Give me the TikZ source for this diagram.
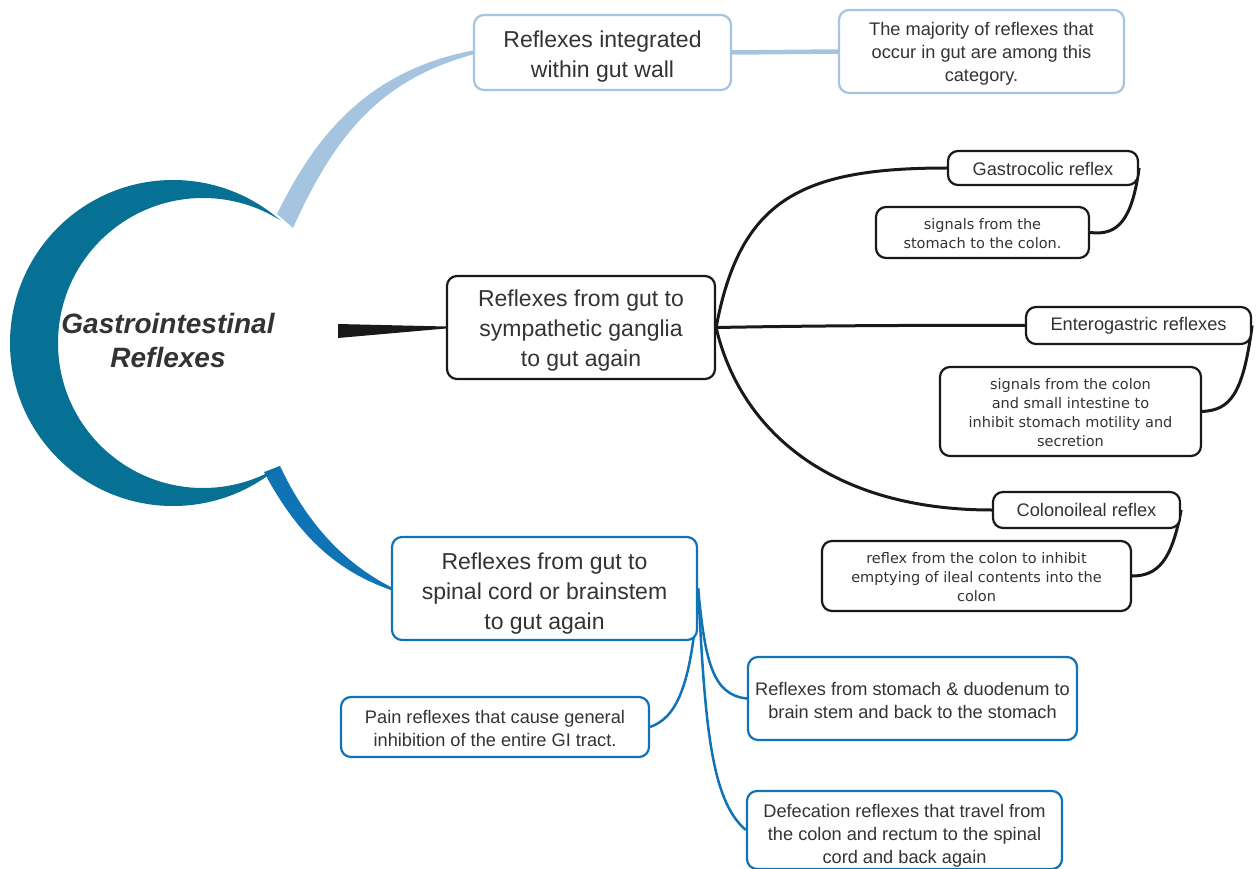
\documentclass[tikz,border=0pt]{standalone}
\usepackage{fontspec}
\setmainfont{Liberation Sans}
\newfontfamily\dvfont{DejaVu Sans}
\definecolor{crescent}{RGB}{6,112,149}
\definecolor{lblue}{RGB}{165,196,223}
\definecolor{cblue}{RGB}{16,115,182}
\definecolor{txt}{RGB}{51,51,51}
\definecolor{blk}{RGB}{25,25,25}
\newcommand\tup[1]{\rule{0pt}{#1}}
\pgfdeclarelayer{bg}
\pgfsetlayers{bg,main}
\begin{document}
\begin{tikzpicture}[x=1pt,y=-1pt,
  box/.style={draw, rounded corners=10pt, line width=2.2pt, fill=white, align=center, inner sep=0pt, text=txt},
  bigtxt/.style={font=\fontsize{23}{30}\selectfont},
  midtxt/.style={font=\fontsize{18.2}{23}\selectfont},
  smalltxt/.style={font=\dvfont\fontsize{14.5}{19}\selectfont},
  lbbox/.style={box, draw=lblue},
  bkbox/.style={box, draw=blk},
  cbbox/.style={box, draw=cblue},
  bkline/.style={draw=blk, line width=3pt},
  cbline/.style={draw=cblue, line width=2.5pt}]
\useasboundingbox (0,0) rectangle (1258,869);

% crescent
\begin{scope}
\clip (173,343) circle (163pt);
\clip (0,0) rectangle (281,869);
\fill[crescent, even odd rule] (0,100) rectangle (400,600) (203,343) circle (145pt);
\end{scope}
\node[font=\fontsize{28}{34}\selectfont\bfseries\itshape, text=txt, align=center] (title) at (168,340) {Gastrointestinal\\Reflexes};

% nodes
\node[lbbox, bigtxt, minimum width=257pt, minimum height=75pt] (A) at (602.5,52.5) {\tup{25pt}Reflexes integrated\\within gut wall};
\node[lbbox, midtxt, minimum width=285pt, minimum height=83pt] (A1) at (981.5,51.5) {\tup{17.5pt}The majority of reflexes that\\occur in gut are among this\\category.};

\node[bkbox, bigtxt, minimum width=268pt, minimum height=103pt] (B) at (581,327.5) {\tup{23pt}Reflexes from gut to\\sympathetic ganglia\\to gut again};
\node[bkbox, midtxt, minimum width=190pt, minimum height=34pt] (B1) at (1043,168) {\tup{14.5pt}Gastrocolic reflex};
\node[bkbox, smalltxt, minimum width=213pt, minimum height=51pt] (B1a) at (982.5,232.5) {\tup{13pt}signals from the\\stomach to the colon.};
\node[bkbox, midtxt, minimum width=225pt, minimum height=37pt] (B2) at (1138.5,325.5) {\tup{14.5pt}Enterogastric reflexes};
\node[bkbox, smalltxt, minimum width=261pt, minimum height=89pt] (B2a) at (1070.5,411.5) {\tup{13pt}signals from the colon\\and small intestine to\\inhibit stomach motility and\\secretion};
\node[bkbox, midtxt, minimum width=187pt, minimum height=36pt] (B3) at (1086.5,510) {\tup{13.5pt}Colonoileal reflex};
\node[bkbox, smalltxt, minimum width=309pt, minimum height=70pt] (B3a) at (976.5,576) {\tup{13pt}reflex from the colon to inhibit\\emptying of ileal contents into the\\colon};

\node[cbbox, bigtxt, minimum width=305pt, minimum height=103pt] (C) at (544.5,588.5) {\tup{27pt}Reflexes from gut to\\spinal cord or brainstem\\to gut again};
\node[cbbox, midtxt, minimum width=308pt, minimum height=60pt] (C1) at (495,727) {\tup{16pt}Pain reflexes that cause general\\inhibition of the entire GI tract.};
\node[cbbox, midtxt, minimum width=329pt, minimum height=83pt] (C2) at (912.5,698.5) {\tup{17.5pt}Reflexes from stomach \& duodenum to\\brain stem and back to the stomach};
\node[cbbox, midtxt, minimum width=315pt, minimum height=78pt] (C3) at (904.5,830) {\tup{25.5pt}Defecation reflexes that travel from\\the colon and rectum to the spinal\\cord and back again};

\coordinate (tipT) at (281,221);
\coordinate (tipB) at (281,465);

\begin{pgfonlayer}{bg}
% light blue ribbon
\fill[lblue] (277,214) .. controls (318,130) and (372,70) .. ([yshift=2pt]A.west) -- ([yshift=-2pt]A.west) .. controls (380,80) and (335,135) .. (293,228) -- cycle;
\draw[lblue, line width=4.5pt] (A.east) -- (A1.west);
% black wedge
\fill[blk] (338,324) -- ([yshift=1pt]B.west) -- ([yshift=-1pt]B.west) -- (338,338) -- cycle;
% blue ribbon
\fill[cblue] (264,472) .. controls (300,540) and (340,572) .. ([yshift=-1.5pt]C.west) -- ([yshift=1.5pt]C.west) .. controls (350,566) and (310,530) .. (280,466) -- cycle;

\draw[bkline] (B.east) .. controls (740,200) and (800,168) .. (B1.west);
\draw[bkline] (B.east) .. controls (800,326) and (900,325) .. (B2.west);
\draw[bkline] (B.east) .. controls (740,430) and (830,510) .. (B3.west);
\draw[bkline] (B1.east) .. controls (1132,220) and (1118,236) .. (B1a.east);
\draw[bkline] (B2.east) .. controls (1243,395) and (1230,410) .. (B2a.east);
\draw[bkline] (B3.east) .. controls (1172,560) and (1158,576) .. (B3a.east);

\draw[cbline] (C.east) .. controls (692,690) and (675,718) .. (C1.east);
\draw[cbline] (C.east) .. controls (705,660) and (712,695) .. (C2.west);
\draw[cbline] (C.east) .. controls (705,720) and (710,800) .. (C3.west);
\end{pgfonlayer}
\end{tikzpicture}
\end{document}
